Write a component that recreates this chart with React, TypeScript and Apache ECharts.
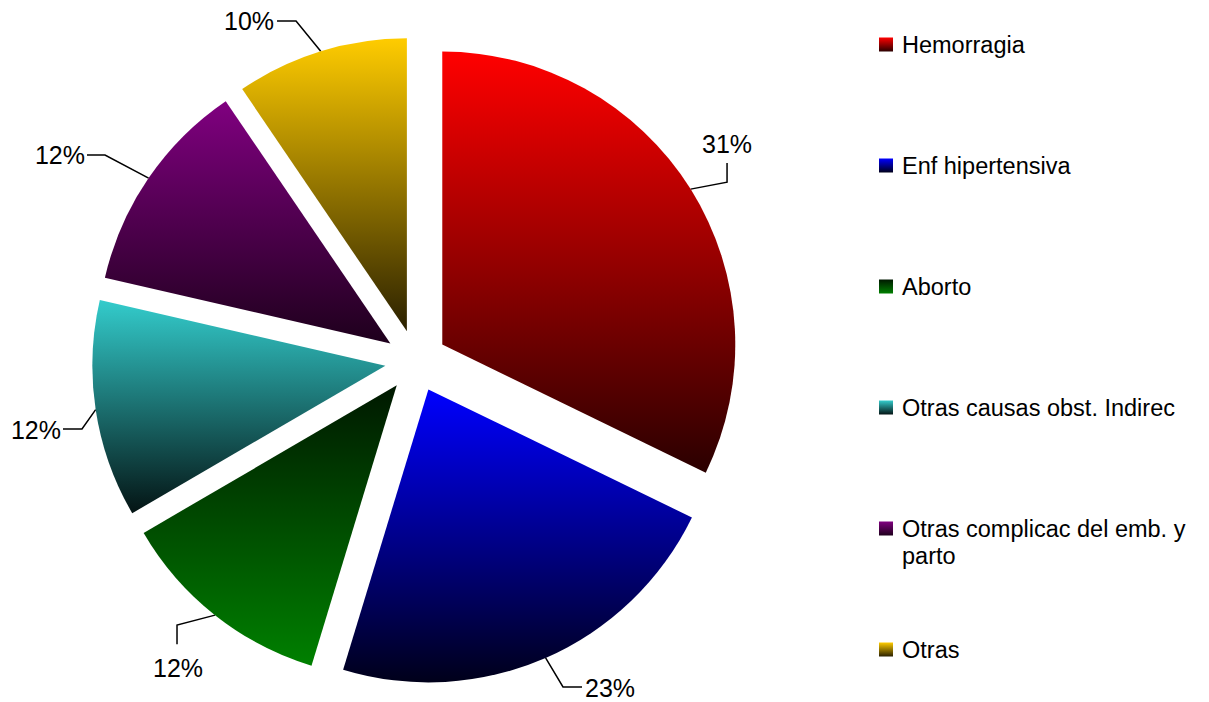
import React, { useEffect, useRef } from "react";
import * as echarts from "echarts";

const CATEGORIES = [
  "Hemorragia",
  "Enf hipertensiva",
  "Aborto",
  "Otras causas obst. Indirec",
  "Otras complicac del emb. y parto",
  "Otras",
];
const VALUES = [32.2, 22.5, 11.9, 12.0, 11.9, 9.5];
const LABELS = ["31%", "23%", "12%", "12%", "12%", "10%"];
const LEGEND_TEXT = [
  "Hemorragia",
  "Enf hipertensiva",
  "Aborto",
  "Otras causas obst. Indirec",
  "Otras complicac del emb. y\nparto",
  "Otras",
];
const BASE_COLORS = ["#FF0000", "#0000FF", "#008000", "#33CCCC", "#800080", "#FFCC00"];
const DARK_COLORS = ["#2a0000", "#00001a", "#001800", "#041414", "#1e001c", "#2a2000"];
const REVERSED = [false, false, true, false, false, false];

// layout / style constants
const CX = 416;
const CY = 361;
const R = 293;
const OFFSET = 31;
// label placements relative to the exploded slice's outer mid-arc point:
// [elbowDx, elbowDy, endDx, endDy, labelDx, labelDy, align]
const LABEL_PLACEMENT: [number, number, number, number, number, number, string][] = [
  [36.4, -7, 36.4, -26, 36.4, -45, "center"],
  [17.4, 29, 36.4, 29, 39.4, 30, "left"],
  [-38, 10, -38, 29, -37, 53, "center"],
  [-13.7, 19.3, -32.7, 19.3, -34.7, 20.3, "right"],
  [-43.6, -23, -61.6, -23, -63.6, -23, "right"],
  [-24.7, -30.3, -43.7, -30.3, -46.7, -30.3, "right"],
];

function gradient(i: number) {
  const a = REVERSED[i] ? DARK_COLORS[i] : BASE_COLORS[i];
  const b = REVERSED[i] ? BASE_COLORS[i] : DARK_COLORS[i];
  return new echarts.graphic.LinearGradient(0, 0, 0, 1, [
    { offset: 0, color: a },
    { offset: 1, color: b },
  ]);
}

function anchorOf(i: number) {
  const total = VALUES.reduce((s, v) => s + v, 0);
  let before = 0;
  for (let k = 0; k < i; k++) before += VALUES[k];
  const mid = ((before + VALUES[i] / 2) / total) * Math.PI * 2;
  const dx = Math.sin(mid);
  const dy = -Math.cos(mid);
  return [CX + (R + OFFSET) * dx, CY + (R + OFFSET) * dy];
}

export default function App() {
  const ref = useRef<HTMLDivElement>(null);
  useEffect(() => {
    if (!ref.current) return;
    const chart = echarts.init(ref.current, undefined, { renderer: "svg" });
    const LINE_H = 27;
    const legendData = CATEGORIES.map((name, i) => {
      const twoLine = LEGEND_TEXT[i].indexOf("\n") >= 0;
      return {
        name,
        itemStyle: { color: gradient(i) },
        textStyle: {
          padding: twoLine ? [LINE_H, 0, 0, 4] : [LINE_H, 0, LINE_H, 4],
        },
      };
    });
    chart.setOption({
      animation: false,
      backgroundColor: "#ffffff",
      legend: {
        orient: "vertical",
        left: 879,
        top: 4,
        padding: 0,
        itemWidth: 14,
        itemHeight: 14,
        itemGap: 40,
        icon: "rect",
        selectedMode: false,
        data: legendData,
        formatter: (name: string) => {
          const i = CATEGORIES.indexOf(name);
          return LEGEND_TEXT[i]
            .split("\n")
            .map((s) => "{t|" + s + "}")
            .join("\n");
        },
        textStyle: {
          fontFamily: "Liberation Sans, Arial, sans-serif",
          fontSize: 23.5,
          color: "#000",
          lineHeight: LINE_H,
          backgroundColor: "rgba(0,0,0,0)",
          rich: {
            t: {
              fontFamily: "Liberation Sans, Arial, sans-serif",
              fontSize: 23.5,
              color: "#000",
              lineHeight: LINE_H,
            },
          },
        },
      },
      series: [
        {
          type: "pie",
          center: [CX, CY],
          radius: R,
          startAngle: 90,
          clockwise: true,
          selectedMode: "multiple",
          selectedOffset: OFFSET,
          emphasis: { disabled: true },
          label: { show: false },
          labelLine: { show: false },
          data: CATEGORIES.map((name, i) => ({
            name,
            value: VALUES[i],
            selected: true,
            itemStyle: { color: gradient(i) },
          })),
        },
        {
          type: "pie",
          center: [CX, CY],
          radius: R + OFFSET,
          startAngle: 90,
          clockwise: true,
          silent: true,
          emphasis: { disabled: true },
          itemStyle: { color: "rgba(0,0,0,0)" },
          label: {
            show: true,
            position: "outside",
            overflow: "none",
            bleedMargin: 0,
            formatter: (p: any) => LABELS[p.dataIndex],
            fontFamily: "Liberation Sans, Arial, sans-serif",
            fontSize: 25,
            color: "#000",
          },
          labelLine: {
            show: true,
            length: 2,
            length2: 2,
            smooth: false,
            lineStyle: { color: "#000", width: 1.5 },
          },
          labelLayout: (p: any) => {
            const i = p.dataIndex;
            const [ax, ay] = anchorOf(i);
            const pl = LABEL_PLACEMENT[i];
            return {
              x: ax + pl[4],
              y: ay + pl[5],
              align: pl[6],
              verticalAlign: "middle",
              labelLinePoints: [
                [ax, ay],
                [ax + pl[0], ay + pl[1]],
                [ax + pl[2], ay + pl[3]],
              ],
            };
          },
          data: CATEGORIES.map((name, i) => ({ name: name + " ", value: VALUES[i] })),
        },
      ],
    });
    return () => chart.dispose();
  }, []);
  return (
    <div
      ref={ref}
      style={{ position: "absolute", left: 0, top: 0, width: 1209, height: 702 }}
    />
  );
}
